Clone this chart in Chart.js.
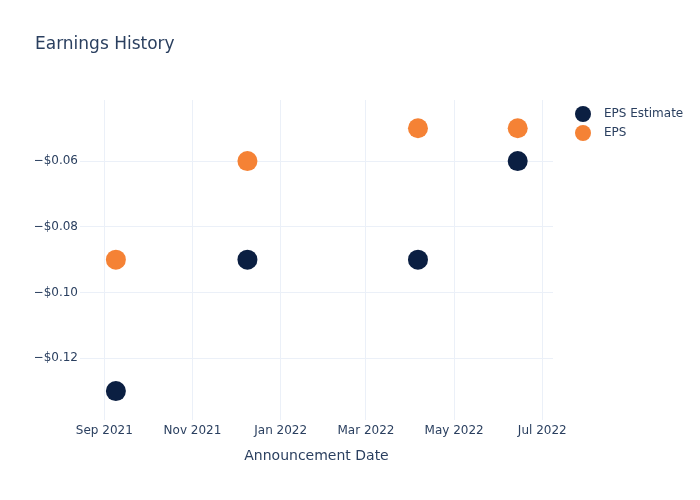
<!DOCTYPE html>
<html><head><meta charset="utf-8">
<script src="https://cdn.jsdelivr.net/npm/chart.js@4/dist/chart.umd.min.js"></script>
<style>html,body{margin:0;padding:0;background:#fff}#wrap{width:700px;height:500px}</style>
</head><body><div id="wrap"><canvas id="c" width="700" height="500"></canvas></div>
<script>
const announcementDates = ['2021-09-09', '2021-12-09', '2022-04-06', '2022-06-14'];
const epsEstimate = [-0.13, -0.09, -0.09, -0.06];
const epsActual = [-0.09, -0.06, -0.05, -0.05];
const seriesNames = ['EPS Estimate', 'EPS'];
const seriesColors = ['#0b1f42', '#f58235'];
const xTickDates = ['2021-09-01', '2021-11-01', '2022-01-01', '2022-03-01', '2022-05-01', '2022-07-01'];
const xTickLabels = ['Sep 2021', 'Nov 2021', 'Jan 2022', 'Mar 2022', 'May 2022', 'Jul 2022'];
const yTickValues = [-0.12, -0.10, -0.08, -0.06];
const yTickLabels = ['\u2212$0.12', '\u2212$0.10', '\u2212$0.08', '\u2212$0.06'];
const xRange = ['2021-08-15T04:00:00Z', '2022-07-08T10:00:00Z'];
const yRange = [-0.1388, -0.0414];

const FONT = 'DejaVu Sans';
const TEXT = '#2a3f5f';
const GRID = '#ebf0f8';

const toPts = (vals) => vals.map((v, i) => ({ x: Date.parse(announcementDates[i]), y: v }));

const legendPlugin = {
  id: 'customLegend',
  afterDraw(chart) {
    const ctx = chart.ctx;
    ctx.save();
    chart.data.datasets.forEach((ds, i) => {
      const y = 114 + i * 19;
      ctx.beginPath();
      ctx.arc(583, y, 8, 0, Math.PI * 2);
      ctx.fillStyle = ds.backgroundColor;
      ctx.fill();
      ctx.fillStyle = TEXT;
      ctx.font = '12px "' + FONT + '"';
      ctx.textBaseline = 'middle';
      ctx.textAlign = 'left';
      ctx.fillText(ds.label, 604, y);
    });
    ctx.restore();
  }
};

new Chart(document.getElementById('c'), {
  type: 'scatter',
  data: {
    datasets: [
      { label: seriesNames[0], data: toPts(epsEstimate), backgroundColor: seriesColors[0], borderWidth: 0, pointRadius: 10, pointHoverRadius: 10 },
      { label: seriesNames[1], data: toPts(epsActual), backgroundColor: seriesColors[1], borderWidth: 0, pointRadius: 10, pointHoverRadius: 10 }
    ]
  },
  options: {
    responsive: false,
    animation: false,
    devicePixelRatio: 1,
    events: [],
    layout: { padding: { left: 35, right: 147, top: 0, bottom: 0 } },
    plugins: {
      legend: { display: false },
      tooltip: { enabled: false },
      title: {
        display: true, text: 'Earnings History', align: 'start', color: TEXT,
        font: { family: FONT, size: 17, weight: 'normal' },
        padding: { top: 34, bottom: 45.6 }
      }
    },
    scales: {
      x: {
        type: 'linear',
        min: Date.parse(xRange[0]), max: Date.parse(xRange[1]),
        afterBuildTicks: (s) => { s.ticks = xTickDates.map(d => ({ value: Date.parse(d) })); },
        afterFit: (s) => { s.height = 80; },
        ticks: {
          color: TEXT, font: { family: FONT, size: 12 }, padding: 4, maxRotation: 0, autoSkip: false,
          callback: (v, i) => xTickLabels[i]
        },
        grid: { color: GRID, lineWidth: 1, drawTicks: false },
        border: { display: false },
        title: { display: true, text: 'Announcement Date', color: TEXT, font: { family: FONT, size: 14 }, padding: { top: 0, bottom: 35 } }
      },
      y: {
        type: 'linear',
        min: yRange[0], max: yRange[1],
        afterBuildTicks: (s) => { s.ticks = yTickValues.map(v => ({ value: v })); },
        afterFit: (s) => { s.width = 45; },
        ticks: {
          color: TEXT, font: { family: FONT, size: 12 }, padding: 2, autoSkip: false,
          callback: (v, i) => yTickLabels[i]
        },
        grid: { color: GRID, lineWidth: 1, drawTicks: false },
        border: { display: false }
      }
    }
  },
  plugins: [legendPlugin]
});
</script>
</body></html>
